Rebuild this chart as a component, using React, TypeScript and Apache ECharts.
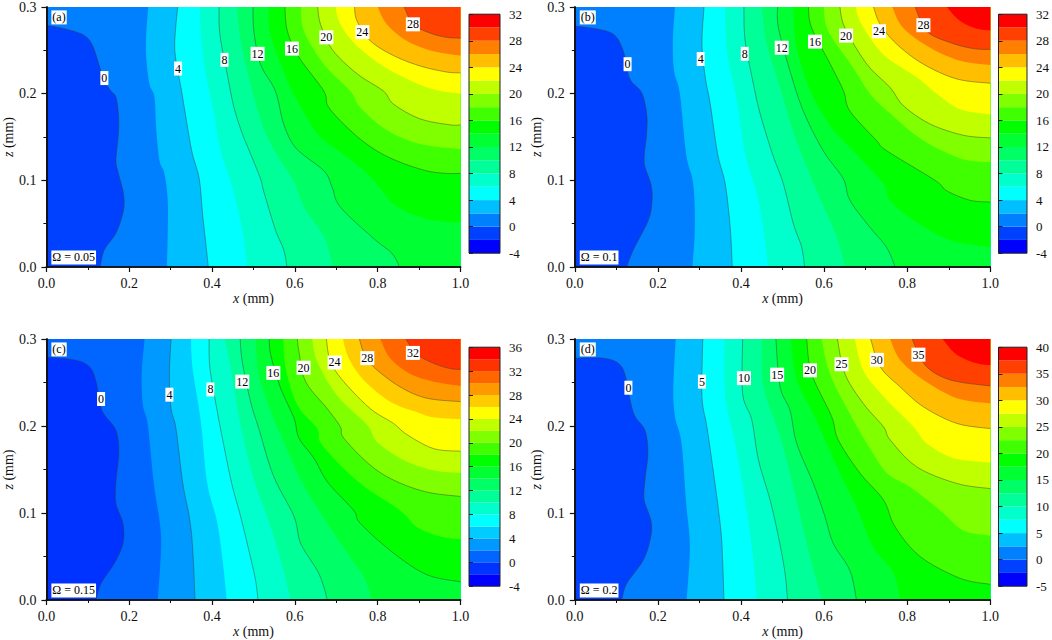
import React, { useEffect, useRef } from "react";
import * as echarts from "echarts";

type Pt = number[];
const FONT = "Liberation Serif";

const tagsTop = ["(a)", "(b)", "(c)", "(d)"];
const tagsBottom = ["Ω = 0.05", "Ω = 0.1", "Ω = 0.15", "Ω = 0.2"];

const palette18 = ["#0000ff","#0040ff","#0080ff","#00bfff","#00ffff","#00ffcc","#00ff99","#00ff66","#00ff33","#00ff00","#40ff00","#80ff00","#bfff00","#ffff00","#ffbf00","#ff8000","#ff4000","#ff0000"];
const palette20 = ["#0000ff","#0033ff","#0066ff","#0099ff","#00ccff","#00ffff","#00ffcc","#00ff99","#00ff66","#00ff33","#00ff00","#40ff00","#80ff00","#bfff00","#ffff00","#ffcc00","#ff9900","#ff6600","#ff3300","#ff0000"];

const scaleA = { min: -4, max: 32, band: 2, tick: 4 };
const scaleB = { min: -4, max: 32, band: 2, tick: 4 };
const scaleC = { min: -4, max: 36, band: 2, tick: 4 };
const scaleD = { min: -5, max: 40, band: 2.5, tick: 5 };

// contours: each starts at the first filled level (0) and steps by one band
const contoursA: Pt[][] = [
  [[0,.279],[.052,.274],[.092,.267],[.112,.255],[.128,.232],[.14,.215],[.156,.203],[.168,.196],[.174,.176],[.174,.154],[.168,.123],[.174,.108],[.186,.085],[.186,.065],[.168,.039],[.14,.02],[.13,0]],
  [[.246,.3],[.241,.268],[.241,.242],[.249,.211],[.261,.196],[.265,.161],[.273,.123],[.285,.108],[.293,.077],[.293,.039],[.291,0]],
  [[.317,.3],[.31,.261],[.313,.238],[.325,.207],[.333,.184],[.351,.134],[.369,.102],[.377,.062],[.385,.027],[.391,0]],
  [[.371,.3],[.373,.268],[.385,.222],[.405,.177],[.421,.134],[.449,.092],[.473,.043],[.485,0]],
  [[.417,.3],[.419,.268],[.437,.222],[.453,.184],[.473,.154],[.49,.134],[.517,.102],[.525,.087],[.553,.043],[.573,.02],[.581,0]],
  [[.461,.3],[.466,.27],[.483,.23],[.517,.17],[.55,.135],[.598,.098],[.622,.069],[.67,.035],[.692,0]],
  [[.499,.3],[.501,.272],[.517,.234],[.553,.203],[.573,.165],[.603,.137],[.67,.111],[.69,.092],[.71,.069],[.79,.033],[.834,.016],[.853,0]],
  [[.537,.3],[.541,.268],[.582,.215],[.606,.192],[.654,.154],[.706,.134],[.758,.115],[.798,.096],[.838,.073],[.9,.058],[.966,.052],[1,.052]],
  [[.576,.3],[.582,.272],[.61,.242],[.67,.203],[.682,.184],[.742,.154],[.798,.134],[.854,.121],[.918,.111],[.966,.108],[1,.108]],
  [[.615,.3],[.622,.272],[.67,.234],[.734,.203],[.758,.184],[.822,.158],[.902,.142],[1,.136]],
  [[.655,.3],[.662,.28],[.69,.251],[.75,.223],[.814,.203],[.838,.188],[.902,.171],[.975,.164],[1,.164]],
  [[.698,.3],[.71,.28],[.746,.257],[.806,.234],[.871,.217],[.934,.205],[1,.2]],
  [[.744,.3],[.75,.284],[.782,.261],[.838,.244],[.902,.232],[.966,.225],[1,.224]],
  [[.8,.3],[.822,.28],[.87,.261],[.934,.249],[1,.244]],
  [[.864,.3],[.886,.28],[.926,.27],[.966,.265],[1,.264]],
];

const contoursB: Pt[][] = [
  [[0,.278],[.061,.274],[.097,.267],[.117,.249],[.125,.23],[.135,.215],[.161,.201],[.173,.177],[.173,.154],[.167,.121],[.183,.096],[.186,.077],[.177,.054],[.141,.02],[.125,0]],
  [[.241,.3],[.236,.261],[.239,.226],[.253,.2],[.268,.13],[.285,.096],[.289,.046],[.283,0]],
  [[.311,.3],[.306,.257],[.314,.219],[.326,.188],[.344,.13],[.362,.096],[.374,.046],[.379,0]],
  [[.362,.3],[.366,.249],[.39,.192],[.41,.13],[.438,.085],[.454,.043],[.465,0]],
  [[.407,.3],[.41,.261],[.43,.211],[.446,.177],[.476,.13],[.502,.096],[.526,.05],[.546,.023],[.553,0]],
  [[.45,.3],[.462,.257],[.494,.207],[.53,.15],[.582,.088],[.63,.035],[.65,0]],
  [[.488,.3],[.49,.276],[.518,.226],[.55,.18],[.598,.134],[.646,.102],[.662,.077],[.71,.046],[.75,.023],[.771,0]],
  [[.526,.3],[.534,.253],[.57,.2],[.618,.161],[.67,.134],[.743,.096],[.758,.077],[.815,.054],[.903,.031],[1,.023]],
  [[.562,.3],[.57,.276],[.615,.234],[.647,.203],[.662,.18],[.726,.146],[.751,.134],[.867,.1],[.895,.088],[.951,.077],[1,.075]],
  [[.599,.3],[.61,.272],[.67,.23],[.71,.2],[.759,.177],[.839,.146],[.93,.125],[1,.121]],
  [[.638,.3],[.65,.276],[.703,.234],[.759,.207],[.791,.186],[.855,.165],[.935,.152],[1,.149]],
  [[.676,.3],[.69,.28],[.743,.245],[.823,.219],[.871,.2],[.927,.182],[1,.176]],
  [[.719,.3],[.735,.28],[.775,.257],[.839,.234],[.919,.217],[1,.212]],
  [[.764,.3],[.79,.276],[.855,.253],[.927,.238],[1,.233]],
  [[.819,.3],[.847,.272],[.903,.259],[.959,.252],[1,.251]],
  [[.895,.3],[.927,.284],[.967,.275],[1,.273]],
];

const contoursC: Pt[][] = [
  [[0,.279],[.068,.276],[.104,.268],[.12,.251],[.13,.224],[.14,.213],[.168,.195],[.175,.17],[.168,.136],[.168,.111],[.185,.088],[.185,.065],[.164,.042],[.132,.019],[.12,0]],
  [[.237,.3],[.23,.259],[.233,.224],[.245,.201],[.259,.135],[.273,.092],[.277,.061],[.269,0]],
  [[.301,.3],[.297,.259],[.301,.22],[.313,.197],[.329,.135],[.345,.096],[.353,.061],[.359,0]],
  [[.349,.3],[.353,.266],[.373,.205],[.388,.135],[.413,.088],[.429,.031],[.435,0]],
  [[.393,.3],[.395,.266],[.413,.216],[.425,.186],[.447,.135],[.469,.096],[.489,.057],[.505,.023],[.511,0]],
  [[.431,.3],[.445,.266],[.469,.201],[.501,.138],[.533,.096],[.566,.046],[.59,0]],
  [[.468,.3],[.473,.274],[.493,.228],[.513,.197],[.548,.143],[.598,.096],[.614,.065],[.654,.034],[.67,.015],[.678,0]],
  [[.505,.3],[.513,.259],[.542,.216],[.57,.185],[.614,.138],[.662,.1],[.726,.054],[.766,.027],[.786,0]],
  [[.538,.3],[.542,.281],[.566,.243],[.598,.209],[.61,.186],[.646,.163],[.68,.135],[.742,.103],[.758,.088],[.838,.054],[.919,.029],[1,.021]],
  [[.572,.3],[.578,.266],[.606,.224],[.654,.197],[.666,.178],[.755,.135],[.854,.103],[.894,.084],[.951,.073],[1,.07]],
  [[.606,.3],[.61,.285],[.626,.251],[.678,.22],[.71,.199],[.718,.186],[.782,.155],[.842,.137],[.919,.124],[1,.119]],
  [[.642,.3],[.654,.274],[.702,.235],[.775,.201],[.798,.182],[.862,.161],[.935,.149],[1,.146]],
  [[.676,.3],[.686,.274],[.718,.251],[.782,.22],[.838,.203],[.871,.19],[.935,.174],[1,.171]],
  [[.716,.3],[.73,.278],[.766,.253],[.83,.228],[.894,.216],[.934,.21],[1,.208]],
  [[.756,.3],[.766,.285],[.79,.268],[.854,.245],[.918,.232],[1,.228]],
  [[.806,.3],[.83,.278],[.878,.26],[.935,.251],[1,.246]],
  [[.868,.3],[.894,.283],[.935,.272],[.975,.266],[1,.265]],
];

const contoursD: Pt[][] = [
  [[0,.278],[.069,.278],[.105,.272],[.121,.259],[.133,.23],[.145,.211],[.169,.195],[.176,.169],[.169,.138],[.167,.115],[.183,.092],[.183,.073],[.165,.046],[.125,.019],[.113,0]],
  [[.243,.3],[.237,.245],[.241,.211],[.257,.18],[.268,.111],[.277,.061],[.269,0]],
  [[.308,.3],[.306,.234],[.318,.199],[.334,.146],[.346,.103],[.354,.065],[.359,0]],
  [[.36,.3],[.362,.234],[.386,.18],[.406,.126],[.426,.061],[.438,0]],
  [[.404,.3],[.404,.237],[.426,.207],[.442,.161],[.47,.115],[.49,.073],[.506,.031],[.512,0]],
  [[.45,.3],[.454,.245],[.494,.188],[.526,.13],[.558,.065],[.594,0]],
  [[.484,.3],[.494,.245],[.518,.218],[.534,.18],[.574,.134],[.602,.096],[.622,.065],[.662,.034],[.678,0]],
  [[.52,.3],[.534,.253],[.574,.214],[.606,.18],[.638,.146],[.678,.107],[.718,.061],[.767,.031],[.783,0]],
  [[.558,.3],[.57,.26],[.618,.211],[.634,.184],[.686,.146],[.743,.115],[.771,.084],[.831,.05],[.927,.025],[1,.018]],
  [[.594,.3],[.614,.26],[.662,.214],[.703,.18],[.751,.146],[.807,.13],[.879,.103],[.935,.08],[1,.074]],
  [[.632,.3],[.65,.26],[.694,.226],[.743,.199],[.759,.184],[.823,.153],[.919,.134],[1,.128]],
  [[.674,.3],[.694,.264],[.743,.234],[.815,.199],[.847,.18],[.911,.163],[1,.158]],
  [[.712,.3],[.735,.268],[.783,.245],[.839,.222],[.919,.203],[1,.197]],
  [[.759,.3],[.783,.276],[.839,.253],[.919,.232],[1,.226]],
  [[.812,.3],[.843,.27],[.903,.253],[1,.246]],
  [[.885,.3],[.919,.282],[.967,.272],[1,.27]],
];

const labelsA: (number | string)[][] = [[.14,.218,"0"],[.318,.229,"4"],[.43,.239,"8"],[.51,.246,"12"],[.593,.252,"16"],[.676,.265,"20"],[.763,.271,"24"],[.885,.28,"28"]];
const labelsB: (number | string)[][] = [[.127,.234,"0"],[.303,.24,"4"],[.409,.246,"8"],[.498,.253,"12"],[.578,.26,"16"],[.653,.267,"20"],[.732,.272,"24"],[.839,.279,"28"]];
const labelsC: (number | string)[][] = [[.132,.231,"0"],[.297,.236,"4"],[.396,.242,"8"],[.473,.251,"12"],[.548,.261,"16"],[.621,.267,"20"],[.696,.273,"24"],[.775,.278,"28"],[.885,.284,"32"]];
const labelsD: (number | string)[][] = [[.129,.244,"0"],[.306,.251,"5"],[.407,.255,"10"],[.487,.259,"15"],[.566,.264,"20"],[.642,.271,"25"],[.727,.276,"30"],[.827,.282,"35"]];

const panels = [
  { left: 45, top: 6, barLeft: 469, scale: scaleA, colors: palette18, contours: contoursA, labels: labelsA },
  { left: 574.8, top: 6, barLeft: 998.5, scale: scaleB, colors: palette18, contours: contoursB, labels: labelsB },
  { left: 45, top: 339, barLeft: 469, scale: scaleC, colors: palette20, contours: contoursC, labels: labelsC },
  { left: 574.8, top: 339, barLeft: 998.5, scale: scaleD, colors: palette18, contours: contoursD, labels: labelsD },
];

const PW = 415.5, PH = 261, BW = 31, BH = 239, BOFF = 8.2;

function smooth(p: number[][]): number[][] {
  const out: number[][] = [];
  for (let i = 0; i < p.length - 1; i++) {
    const a = p[Math.max(i - 1, 0)], b = p[i], c = p[i + 1], d = p[Math.min(i + 2, p.length - 1)];
    for (let k = 0; k < 6; k++) {
      const t = k / 6, t2 = t * t, t3 = t2 * t;
      out.push([0, 1].map((j) =>
        0.5 * (2 * b[j] + (c[j] - a[j]) * t + (2 * a[j] - 5 * b[j] + 4 * c[j] - d[j]) * t2 + (3 * b[j] - a[j] - 3 * c[j] + d[j]) * t3)));
    }
  }
  out.push(p[p.length - 1]);
  return out;
}

function buildOption() {
  const grid: any[] = [], xAxis: any[] = [], yAxis: any[] = [], series: any[] = [];
  const axisLine = { show: true, lineStyle: { color: "#111", width: 1.6 } };
  const labelStyle = { color: "#111", fontSize: 14, fontFamily: FONT };
  const rich = { i: { fontStyle: "italic", fontSize: 14, fontFamily: FONT, color: "#111" } };
  const boxLabel = {
    color: "#000", fontSize: 12, fontFamily: FONT, backgroundColor: "#fff", padding: [1, 1, 1, 1], opacity: 1,
  };

  panels.forEach((pn, idx) => {
    const g = grid.length;
    grid.push({ left: pn.left, top: pn.top, width: PW, height: PH });
    grid.push({ left: pn.barLeft, top: pn.top + BOFF, width: BW, height: BH });
    const xi = xAxis.length, yi = yAxis.length;
    xAxis.push({
      type: "value", gridIndex: g, min: 0, max: 1, interval: 0.2, z: 10, position: "bottom",
      axisLine, splitLine: { show: false },
      axisTick: { show: true, inside: false, length: 5, lineStyle: { color: "#111", width: 1.2 } },
      minorTick: { show: true, splitNumber: 2, length: 3, lineStyle: { color: "#111", width: 1 } },
      axisLabel: { ...labelStyle, margin: 9, formatter: (v: number) => v.toFixed(1) },
      name: "{i|x} (mm)", nameLocation: "middle", nameGap: 24,
      nameTextStyle: { ...labelStyle, rich },
    });
    xAxis.push({
      type: "value", gridIndex: g, min: 0, max: 1, position: "top", z: 10, axisLine,
      axisTick: { show: false }, axisLabel: { show: false }, splitLine: { show: false },
    });
    xAxis.push({
      type: "value", gridIndex: g + 1, min: 0, max: 1, show: false,
    });
    yAxis.push({
      type: "value", gridIndex: g, min: 0, max: 0.3, interval: 0.1, z: 10, position: "left",
      axisLine, splitLine: { show: false },
      axisTick: { show: true, inside: false, length: 5, lineStyle: { color: "#111", width: 1.2 } },
      minorTick: { show: true, splitNumber: 2, length: 3, lineStyle: { color: "#111", width: 1 } },
      axisLabel: { ...labelStyle, margin: 10, formatter: (v: number) => v.toFixed(1) },
      name: "{i|z} (mm)", nameLocation: "middle", nameGap: 31,
      nameTextStyle: { ...labelStyle, rich },
    });
    yAxis.push({
      type: "value", gridIndex: g, min: 0, max: 0.3, position: "right", z: 10, axisLine,
      axisTick: { show: false }, axisLabel: { show: false }, splitLine: { show: false },
    });
    yAxis.push({
      type: "value", gridIndex: g + 1, min: pn.scale.min, max: pn.scale.max, interval: pn.scale.tick,
      position: "right", z: 10, axisLine: { show: false }, splitLine: { show: false },
      axisTick: { show: true, inside: false, length: 4, lineStyle: { color: "#222", width: 1 } },
      axisLabel: { color: "#111", fontSize: 13, fontFamily: FONT, margin: 9 },
    });

    const { min, band, tick } = pn.scale;
    const colorOf = (level: number) => pn.colors[Math.round((level - min) / band)];
    series.push({
      type: "custom", xAxisIndex: xi, yAxisIndex: yi, coordinateSystem: "cartesian2d", clip: true, z: 2, silent: true,
      data: pn.contours.map((_, i) => [i]),
      renderItem: (params: any, api: any) => {
        const i = params.dataIndex;
        const raw = pn.contours[i];
        const curve = smooth(raw.map((p) => api.coord(p)));
        const level = i * band;
        const closing: number[][] = [];
        const end = raw[raw.length - 1];
        if (end[1] === 0) closing.push([1, 0]);
        closing.push([1, 0.3]);
        if (raw[0][0] === 0) closing.push([0, 0.3]);
        const children: any[] = [];
        if (i === 0) {
          children.push({
            type: "polygon",
            shape: { points: [[0, 0], [1, 0], [1, 0.3], [0, 0.3]].map((p) => api.coord(p)) },
            style: { fill: colorOf(-band) },
          });
        }
        children.push({
          type: "polygon",
          shape: { points: curve.concat(closing.map((p) => api.coord(p))) },
          style: { fill: colorOf(level) },
        });
        if (level % tick === 0) {
          children.push({
            type: "polyline",
            shape: { points: curve },
            style: { fill: "none", stroke: "rgba(60,60,60,0.65)", lineWidth: 0.7 },
          });
        }
        return { type: "group", children };
      },
    });

    const bands: any[] = pn.colors.map((c, i) => [min + i * band, min + (i + 1) * band, c]);
    bands.push([pn.scale.min, pn.scale.max, "none"]);
    series.push({
      type: "custom", xAxisIndex: xi + 2, yAxisIndex: yi + 2, coordinateSystem: "cartesian2d", z: 2, silent: true,
      data: bands,
      encode: { y: [0, 1] },
      renderItem: (params: any, api: any) => {
        const b = bands[params.dataIndex];
        const a = api.coord([0, b[1]]);
        const c = api.coord([1, b[0]]);
        return {
          type: "rect",
          shape: { x: a[0], y: a[1], width: c[0] - a[0], height: c[1] - a[1] },
          style: b[2] === "none" ? { fill: "none", stroke: "#222", lineWidth: 1 } : { fill: b[2] },
        };
      },
    });

    series.push({
      type: "scatter", xAxisIndex: xi, yAxisIndex: yi, z: 5, silent: true, symbolSize: 0,
      itemStyle: { opacity: 1 },
      data: pn.labels,
      label: {
        ...boxLabel, show: true, position: "inside", align: "center", verticalAlign: "middle",
        formatter: (p: any) => p.data[2],
      },
    });
    series.push({
      type: "scatter", xAxisIndex: xi, yAxisIndex: yi, z: 5, silent: true, symbolSize: 0,
      itemStyle: { opacity: 1 },
      data: [[0.012, 0.288, tagsTop[idx]], [0.012, 0.011, tagsBottom[idx]]],
      label: {
        ...boxLabel, show: true, position: "inside", align: "left", verticalAlign: "middle",
        formatter: (p: any) => p.data[2],
      },
    });
  });

  return { animation: false, backgroundColor: "#fff", textStyle: { fontFamily: FONT }, grid, xAxis, yAxis, series };
}

export default function App() {
  const ref = useRef<HTMLDivElement>(null);
  useEffect(() => {
    const chart = echarts.init(ref.current!, null, { renderer: "svg" });
    chart.setOption(buildOption() as any);
    return () => chart.dispose();
  }, []);
  return <div ref={ref} style={{ position: "fixed", left: 0, top: 0, width: 1052, height: 640 }} />;
}
